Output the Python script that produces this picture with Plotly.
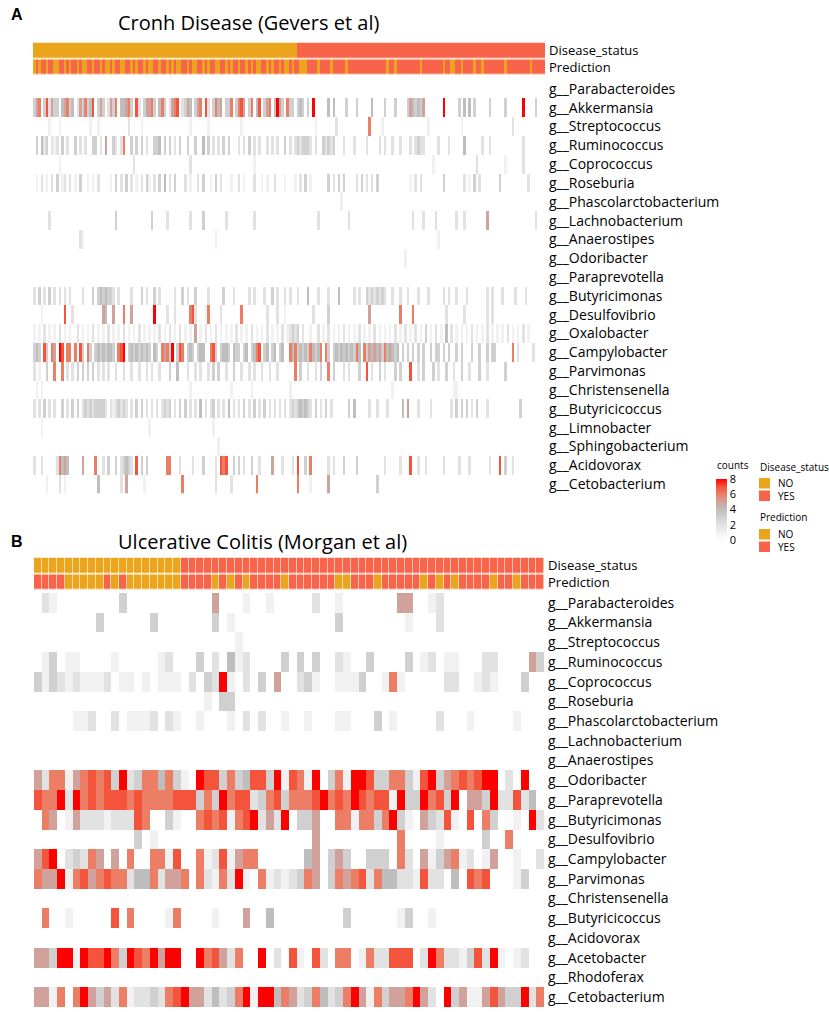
import plotly.graph_objects as go

# ---------------- data ----------------
taxa_A = ["g__Parabacteroides", "g__Akkermansia", "g__Streptococcus", "g__Ruminococcus",
          "g__Coprococcus", "g__Roseburia", "g__Phascolarctobacterium", "g__Lachnobacterium",
          "g__Anaerostipes", "g__Odoribacter", "g__Paraprevotella", "g__Butyricimonas",
          "g__Desulfovibrio", "g__Oxalobacter", "g__Campylobacter", "g__Parvimonas",
          "g__Christensenella", "g__Butyricicoccus", "g__Limnobacter", "g__Sphingobacterium",
          "g__Acidovorax", "g__Cetobacterium"]

taxa_B = ["g__Parabacteroides", "g__Akkermansia", "g__Streptococcus", "g__Ruminococcus",
          "g__Coprococcus", "g__Roseburia", "g__Phascolarctobacterium", "g__Lachnobacterium",
          "g__Anaerostipes", "g__Odoribacter", "g__Paraprevotella", "g__Butyricimonas",
          "g__Desulfovibrio", "g__Campylobacter", "g__Parvimonas", "g__Christensenella",
          "g__Butyricicoccus", "g__Acidovorax", "g__Acetobacter", "g__Rhodoferax",
          "g__Cetobacterium"]

annot_labels = ["Disease_status", "Prediction"]
count_ticks = [0, 2, 4, 6, 8]

# Panel A (Gevers et al): 0 = NO, 1 = YES
disease_A = ("0000000000 0000000000 0000000000 0000000000 0000000000 0000000000 0000000000 0000000000 "
             "0000000000 0000000000 0001111111 1111111111 1111111111 1111111111 1111111111 1111111111 "
             "1111111111 1111111111 1111111111 1111111111")
prediction_A = ("0101101100 1101011010 0110110100 1011001101 0110100110 1101010011 0100110101 1001101011 "
                "0110101001 1010110100 1011000111 1011110111 1101111111 1111111101 1011111111 1011111111 "
                "0110011011 1101101111 1111011111 1111011111")

# Panel A counts, one string per taxon (digits = counts 0..8)
counts_A = [
    "0000000000 0000000000 0000000000 0000000000 0000000000 0000000000 0000000000 0000000000 0000000000 0000000000 "
    "0000000000 0000000000 0000000000 0000000000 0000000000 0000000000 0000000000 0000000000 0000000000 0000000000",
    "3560372533 0456340253 6347035302 5360445630 7203556304 6302567023 5403560720 3645033603 6750360470 3560485306 "
    "3303430308 0000040400 0030003000 0040000300 0300003543 4350000000 8000003040 4030000030 0000300000 0800003000",
    "0000001000 1000000000 0010010000 0000000200 0010000000 0000000000 0100000010 0000000000 0100000000 0000000000 "
    "0000000000 1000000020 0000000000 0600001000 0000000000 0000100000 0000000100 0000000000 0000000200 0000000000",
    "0304230212 0302003020 2003302050 0320260030 3030200334 0303020300 3003004030 2020303000 2020302020 0202020030 "
    "2023233320 2003232300 0200020000 2000020200 2002000202 3220000020 0020000040 0000020020 0000000000 0200000000",
    "0000000000 1000000000 0000000000 0000000002 0000000000 0000000000 0200000000 0000000000 0000001000 0000000000 "
    "0000000000 0000000000 0000000000 0000000000 0000000000 0000001000 0000000000 0002000000 0000100000 0200000000",
    "0102010203 0120201030 0101020000 1030203020 1020310203 0402030002 0100203001 0302000100 2010002001 0100200010 "
    "0010203010 0000030203 0300002030 2020300000 0000000102 0200000000 3000000020 1030200000 0030000000 0002000000",
    "0000000000 0000000000 0000000000 0000000000 0000000000 0000000000 0000000000 0000000000 0000000000 0000000000 "
    "0000000000 0000000000 1000000000 0000000000 0000000000 0000000000 0000000000 0000000000 0000000000 0000000000",
    "0000002000 0000000000 0000000000 0030000000 0000003000 0020000000 0200003000 0000020000 0000002000 0000000000 "
    "0000000000 0200000000 0002000000 0000000000 0000000020 0020000200 0000020020 0000000500 0000000000 0000002000",
    "0000000000 0000000021 0000000000 0000000000 0000000000 0000000000 0000000000 0100000000 0000000000 0000000000 "
    "0000000000 0000000000 0000000000 0000000000 0000000000 0000000010 0000000000 0000000000 0000000000 0000000000",
    "0000000000 0000000000 0000000000 0000000000 0000000000 0000000000 0000000000 0000000000 0000000000 0000000000 "
    "0000000000 0000000000 0000000000 0000000000 0000010000 0000000000 0000000000 0000000000 0000000000 0000000000",
    "0000000000 0000000000 0000000000 0000000000 0000000000 0000000000 0000000000 0000000000 0000000000 0000000000 "
    "0000000000 0000000000 0000000000 0000000000 0000000000 0000000000 0000000000 0000000000 0000000000 0000000000",
    "2030203020 2020200002 0003034343 3202000020 0030200302 0000020030 2003000020 0000300020 0000202000 2003020020 "
    "2002000400 0200020004 0000020200 3232323200 2002002000 2000200000 2020020002 0000000202 0002000020 0020000000",
    "0001000000 0070020000 0000000540 0500060050 0000000800 0020020000 0672000160 0002000000 0600000000 0200020010 "
    "0000000002 0000030000 0000000000 0500000000 0006000060 0000000000 0200000020 0000000202 0000000000 0000000000",
    "1010201010 2010100201 0102010102 0101020101 0201010102 0102010201 0105010201 0201010102 0101020101 0201010201 "
    "2323020010 0201020101 0201010201 0102010101 0201020102 0103010201 0402010101 0201010201 0101020101 0201000000",
    "3430730650 8706606073 0630343434 4306780343 4343430430 6563803760 3430344006 7303443043 3034034670 3403403400 "
    "6463434364 3460630343 4343436406 3545453645 4340303030 3030030330 3030030300 0300300303 3000000602 0000020000",
    "2010030060 0602020303 0303020202 0020020020 0200202002 0003004000 2002020020 3030020030 0200202002 0020020000 "
    "0060300200 2030060300 0202000300 7020030200 0303000700 2030003020 0300200300 2000300200 0000300000 0000000000",
    "0101000000 0000000000 0000000000 0000000000 0000000000 0000000000 0100000000 0000000100 0000010000 0000000000 "
    "1000000000 0000000000 0000000000 0000000000 1000000000 0000000000 0000110000 0000000000 0000000000 0000000000",
    "2020302020 0302030302 3232333320 2123232020 3030202020 2323020303 0202040202 3020204020 2030203020 3020202020 "
    "2323434320 3020302000 0003040000 0200200020 0000405000 2000020000 0002030303 0203000200 0000000000 3000000000",
    "0001000000 0000000000 0000000000 0000000000 0000010000 0000000000 0000000000 1000000000 0000000000 0000000000 "
    "0000000000 0000000000 0000000000 0000000000 0000000000 0000000000 0000000000 0000000000 0000000000 0000000000",
    "0000000000 0000000000 0000000000 0000000000 0000000000 0000000000 0000000000 0010000000 0000000000 0000000000 "
    "0000000000 0000000000 0000000000 0000000000 0000000000 0000000000 0000000000 0000000000 0000000000 0000000000",
    "2002000002 6454000005 0000600203 0030234320 7030300000 0066000200 0020003000 0207670030 3020030020 0005000200 "
    "0207003060 0000020200 0300003000 0000000200 0002000700 2002000000 2000002000 2000000020 0070300200 0000000000",
    "0000010000 2010000000 0000040000 0000205000 0001000000 0000000060 0000000000 0200000200 0000000600 0000000000 "
    "0006000010 0000050000 0000000000 0000300000 0000000000 0000000000 0000000000 0000000000 0000000000 0000000000",
]

# Panel B (Morgan et al)
disease_B = "0000000000 0000000001 1111111111 1111111111 1111111111 1111111111 111111"
prediction_B = "1111000001 0100000001 1110101011 1101111110 0111011111 0101011110 110111"

counts_B = [
    "0210000000 0300000000 0005000100 1000002001 0000000550 0120000000 000000",
    "0000000030 0000030000 0003010000 0000000003 0000000010 0020000000 000000",
    "0000000000 0000000000 0000001000 0000000000 0000000000 0000000000 000000",
    "0130110000 1000001200 0302041200 0030303002 1003000030 1201100022 000053",
    "3132121112 0110101110 2032810203 0500231001 1130016100 0002200121 000300",
    "0000000000 0000000000 0010330000 0000000000 0000000000 0000000000 000000",
    "0000011200 2011120210 0100010202 0010010001 1000301000 0020001000 001000",
    "0000000000 0000000000 0000000000 0000000000 0000000000 0000000000 000000",
    "0000000000 0000000000 0000000000 0000000000 0000000000 0000000000 000000",
    "5266156767 3823664631 0877363477 3817618036 1887336631 7835676788 020800",
    "7668286767 7767666677 7363867723 6736667867 6876771833 8673805538 227240",
    "0650152221 2227600310 0676716782 5280335006 6166368310 5327107063 001082",
    "0000000000 0003010000 0000000000 0000005000 0000000600 0010000030 060000",
    "5780232650 5060066170 0612715660 0000045035 3003330620 5135612015 001002",
    "6558167567 6624462556 0621628106 1212365036 5672644221 7220407670 001300",
    "0000000000 0000000000 0000000000 0000000000 0000000000 0000000000 000000",
    "0600100000 7060000160 0001000500 4000000000 3000000130 0100000000 000000",
    "0000000000 0000000000 0000000000 0000000000 0000000000 0000000000 000000",
    "5538818778 6387685880 0867526008 0207107206 6016227770 2862213728 101200",
    "0000000000 0000000000 0000000000 0000000000 0000000000 0000000000 000000",
    "5516068535 2612232678 5524236818 8465236423 6851635568 5208351157 533826",
]

# ---------------- helpers ----------------
W, H = 829, 1012


def fx(p):
    return p / W


def fy(p):
    return 1 - p / H


def decode(s, n):
    v = [int(c) for c in s.replace(" ", "")]
    return (v + [0] * n)[:n]


NA = len(disease_A.replace(" ", ""))
NB = len(disease_B.replace(" ", ""))

zA = [decode(r, NA) for r in counts_A]
zB = [decode(r, NB) for r in counts_B]
annA = [decode(disease_A, NA), decode(prediction_A, NA)]
annB = [decode(disease_B, NB), decode(prediction_B, NB)]

C_NO = "#EBA51D"
C_YES = "#F8644A"
ann_scale = [[0, C_NO], [0.5, C_NO], [0.5, C_YES], [1, C_YES]]
count_scale = [[0, "#FFFFFF"], [0.25, "#E2E2E2"], [0.5, "#BEBEBE"], [0.62, "#CFA39D"],
               [0.75, "#EC7E66"], [0.88, "#F4513A"], [1, "#FF0000"]]

FONT = "Open Sans"

fig = go.Figure()

# Panel A
fig.add_trace(go.Heatmap(z=annA, x=list(range(NA)), y=[0, 1], colorscale=ann_scale,
                         zmin=0, zmax=1, showscale=False, ygap=1.5, hoverinfo="skip",
                         xaxis="x", yaxis="y"))
fig.add_trace(go.Heatmap(z=zA, x=list(range(NA)), y=list(range(len(taxa_A))),
                         colorscale=count_scale, zmin=0, zmax=8, hoverinfo="skip",
                         xaxis="x", yaxis="y2",
                         colorbar=dict(x=fx(716), xanchor="left", y=fy(509.5), yanchor="middle",
                                       len=61, lenmode="pixels", ypad=0, xpad=0,
                                       thickness=11, thicknessmode="pixels",
                                       tickvals=count_ticks, ticks="", outlinewidth=0,
                                       tickfont=dict(size=11, family=FONT, color="black"))))
# Panel B
fig.add_trace(go.Heatmap(z=annB, x=list(range(NB)), y=[0, 1], colorscale=ann_scale,
                         zmin=0, zmax=1, showscale=False, ygap=1.5, xgap=0.6, hoverinfo="skip",
                         xaxis="x2", yaxis="y3"))
fig.add_trace(go.Heatmap(z=zB, x=list(range(NB)), y=list(range(len(taxa_B))),
                         colorscale=count_scale, zmin=0, zmax=8, showscale=False, hoverinfo="skip",
                         xaxis="x2", yaxis="y4"))

hidden_x = dict(showgrid=False, zeroline=False, showticklabels=False, ticks="", showline=False)
ylab = dict(showgrid=False, zeroline=False, ticks="", showline=False, side="right",
            ticklabelstandoff=3, tickfont=dict(size=14, family=FONT, color="black"))
ylab_ann = dict(ylab, tickfont=dict(size=13, family=FONT, color="black"))

fig.update_layout(
    width=W, height=H, margin=dict(l=0, r=0, t=0, b=0), autosize=False,
    paper_bgcolor="white", plot_bgcolor="white",
    font=dict(family=FONT, color="black"),
    xaxis=dict(domain=[fx(33), fx(545)], range=[-0.5, NA - 0.5], anchor="y", **hidden_x),
    yaxis=dict(domain=[fy(75.5), fy(42.5)], range=[1.5, -0.5], anchor="x",
               tickvals=[0, 1], ticktext=annot_labels, **ylab_ann),
    yaxis2=dict(domain=[fy(493.5), fy(79.5)], range=[len(taxa_A) - 0.5, -0.5], anchor="x",
                tickvals=list(range(len(taxa_A))), ticktext=taxa_A, **ylab),
    xaxis2=dict(domain=[fx(34), fx(544)], range=[-0.5, NB - 0.5], anchor="y3", **hidden_x),
    yaxis3=dict(domain=[fy(590.5), fy(557.5)], range=[1.5, -0.5], anchor="x2",
                tickvals=[0, 1], ticktext=annot_labels, **ylab_ann),
    yaxis4=dict(domain=[fy(1007), fy(593)], range=[len(taxa_B) - 0.5, -0.5], anchor="x2",
                tickvals=list(range(len(taxa_B))), ticktext=taxa_B, **ylab),
)

annots = [
    dict(text="<b>A</b>", x=fx(9), y=fy(14), size=16, fam="Liberation Sans"),
    dict(text="<b>B</b>", x=fx(9), y=fy(541), size=16, fam="Liberation Sans"),
    dict(text="Cronh Disease (Gevers et al)", x=fx(116), y=fy(23), size=20, fam=FONT),
    dict(text="Ulcerative Colitis (Morgan et al)", x=fx(116), y=fy(541), size=20, fam=FONT),
    dict(text="counts", x=fx(715), y=fy(465), size=10, fam=FONT),
    dict(text="Disease_status", x=fx(758), y=fy(467), size=10, fam=FONT),
    dict(text="NO", x=fx(776), y=fy(483), size=10, fam=FONT),
    dict(text="YES", x=fx(776), y=fy(496), size=10, fam=FONT),
    dict(text="Prediction", x=fx(758), y=fy(517), size=10, fam=FONT),
    dict(text="NO", x=fx(776), y=fy(534), size=10, fam=FONT),
    dict(text="YES", x=fx(776), y=fy(547), size=10, fam=FONT),
]
for a in annots:
    fig.add_annotation(text=a["text"], x=a["x"], y=a["y"], xref="paper", yref="paper",
                       xanchor="left", yanchor="middle", showarrow=False,
                       font=dict(size=a["size"], family=a["fam"], color="black"))

legend_boxes = [(478, C_NO), (490.5, C_YES), (529, C_NO), (541.5, C_YES)]
for top, col in legend_boxes:
    fig.add_shape(type="rect", xref="paper", yref="paper",
                  x0=fx(759), x1=fx(770), y0=fy(top), y1=fy(top + 10.5),
                  fillcolor=col, line=dict(width=0))

fig.write_html("out.html", config={"displayModeBar": False},
               post_script="document.body.style.margin='0';")
